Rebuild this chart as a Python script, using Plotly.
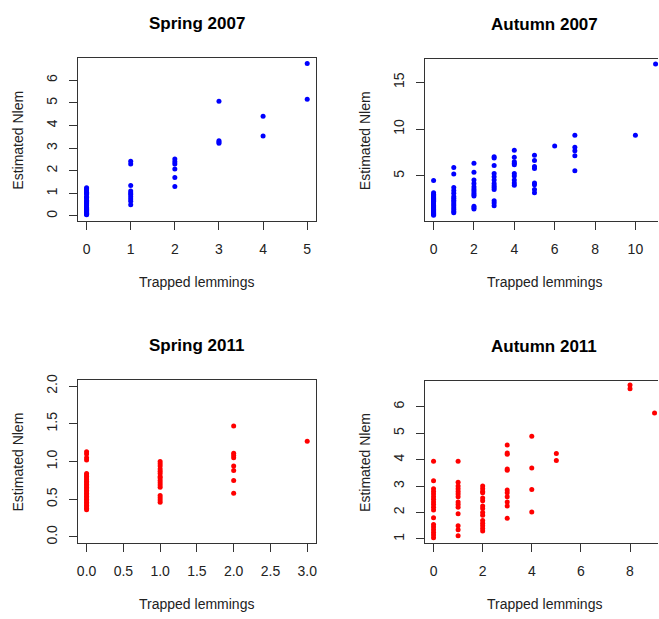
import plotly.graph_objects as go

# ---------------- data ----------------
titles = ["Spring 2007", "Autumn 2007", "Spring 2011", "Autumn 2011"]
x_label = "Trapped lemmings"
y_label = "Estimated Nlem"

spring07 = {
    0: [0.05, 0.08, 0.1, 0.12, 0.15, 0.18, 0.2, 0.25, 0.3, 0.33, 0.37, 0.4, 0.45, 0.5,
        0.55, 0.6, 0.65, 0.7, 0.8, 0.82, 0.85, 0.95, 1.0, 1.05, 1.1, 1.15, 1.2, 1.25],
    1: [2.42, 2.3, 1.35, 1.1, 1.02, 0.95, 0.85, 0.75, 0.65, 0.5],
    2: [2.52, 2.4, 2.3, 2.08, 1.7, 1.3],
    3: [5.07, 3.33, 3.27, 3.22],
    4: [4.41, 3.54],
    5: [6.74, 5.16],
}
autumn07 = {
    0: [4.5, 3.2, 3.05, 2.9, 2.8, 2.7, 2.6, 2.5, 2.4, 2.3, 2.2, 2.1, 2.0, 1.9, 1.8, 1.7,
        1.6, 1.5, 1.4, 1.3, 1.2, 1.1, 1.0, 0.9, 0.8],
    1: [5.9, 5.2, 3.75, 3.45, 3.15, 2.8, 2.6, 2.4, 2.2, 2.0, 1.8, 1.6, 1.4, 1.2, 1.05],
    2: [6.35, 5.4, 4.55, 4.2, 3.85, 3.6, 3.4, 3.2, 3.0, 2.85, 1.75, 1.6, 1.45],
    3: [7.05, 6.9, 6.1, 5.25, 4.9, 4.55, 4.2, 3.95, 3.75, 3.55, 2.35, 2.1, 1.8],
    4: [7.75, 7.0, 6.5, 6.35, 6.2, 5.25, 5.0, 4.55, 4.25, 4.0],
    5: [7.2, 6.65, 6.0, 5.8, 4.25, 4.05, 3.55, 3.2],
    6: [8.2],
    7: [9.35, 8.05, 7.7, 7.15, 5.55],
    10: [9.35],
    11: [16.95],
}
spring11 = {
    0: [1.13, 1.1, 1.05, 1.02, 0.84, 0.82, 0.8, 0.78, 0.76, 0.74, 0.72, 0.7, 0.68, 0.66,
        0.64, 0.62, 0.6, 0.58, 0.56, 0.54, 0.52, 0.5, 0.48, 0.46, 0.44, 0.42, 0.4, 0.38, 0.36],
    1: [1.0, 0.97, 0.94, 0.9, 0.87, 0.84, 0.8, 0.78, 0.75, 0.72, 0.69, 0.66, 0.55, 0.52,
        0.49, 0.46],
    2: [1.47, 1.11, 1.08, 1.05, 0.94, 0.88, 0.75, 0.58],
    3: [1.27],
}
autumn11 = {
    0: [3.94, 3.2, 2.9, 2.8, 2.7, 2.6, 2.5, 2.4, 2.3, 2.2, 2.1, 1.8, 1.55, 1.45, 1.35,
        1.25, 1.15, 1.05],
    1: [3.94, 3.15, 3.0, 2.9, 2.8, 2.7, 2.6, 2.4, 2.3, 2.2, 1.95, 1.5, 1.35, 1.12],
    2: [3.0, 2.9, 2.8, 2.75, 2.55, 2.45, 2.25, 2.15, 2.0, 1.9, 1.7, 1.6, 1.5, 1.4, 1.3],
    3: [4.55, 4.25, 4.2, 3.65, 3.6, 2.85, 2.75, 2.6, 2.4, 2.25, 1.78],
    4: [4.88, 3.68, 2.87, 2.02],
    5: [4.23, 3.97],
    8: [6.82, 6.68],
    9: [5.76],
}

x_ticks = [[0, 1, 2, 3, 4, 5], [0, 2, 4, 6, 8, 10],
           [0, 0.5, 1.0, 1.5, 2.0, 2.5, 3.0], [0, 2, 4, 6, 8]]
y_ticks = [[0, 1, 2, 3, 4, 5, 6], [5, 10, 15],
           [0, 0.5, 1.0, 1.5, 2.0], [1, 2, 3, 4, 5, 6]]

# ---------------- layout ----------------
W, H = 659, 619
FONT = "Liberation Sans, Arial, sans-serif"
LINE = "#333333"

datasets = [spring07, autumn07, spring11, autumn11]
colors = ["#0000FF", "#0000FF", "#FF0000", "#FF0000"]
# pixel boxes: (left, right, top, bottom)
boxes = [(77, 316, 53, 218), (425, 659, 54, 218), (77, 316, 379, 544), (425, 659, 380, 544)]
x_ranges = [[-0.2, 5.2], [-0.44, 11.12], [-0.12, 3.12], [-0.36, 9.14]]
y_ranges = [[-0.23, 6.97], [0.16, 17.46], [-0.08, 2.08], [0.85, 6.97]]
tick_fmt = ["", "", ".1f", ""]
right_border = [True, False, True, False]
title_centers = [196.5, 545, 196.5, 545]

fig = go.Figure()
annotations = []
for i, d in enumerate(datasets):
    xs, ys = [], []
    for k, vals in d.items():
        xs += [k] * len(vals)
        ys += vals
    ax = "" if i == 0 else str(i + 1)
    fig.add_trace(go.Scatter(x=xs, y=ys, mode="markers", xaxis="x" + ax, yaxis="y" + ax,
                             marker=dict(color=colors[i], size=5, line=dict(width=0)),
                             showlegend=False, cliponaxis=False))
    l, r, t, b = boxes[i]
    xdom = [l / W, r / W]
    ydom = [1 - b / H, 1 - t / H]
    common = dict(showgrid=False, zeroline=False, showline=True, linecolor=LINE, linewidth=1,
                  ticks="outside", ticklen=8, tickcolor=LINE, tickwidth=1,
                  tickfont=dict(family=FONT, size=14, color="#222222"))
    fig.layout["xaxis" + ax] = dict(domain=xdom, range=x_ranges[i], anchor="y" + ax,
                                   tickvals=x_ticks[i], tickformat=tick_fmt[i], mirror=True,
                                   ticklabelstandoff=7, **common)
    fig.layout["yaxis" + ax] = dict(domain=ydom, range=y_ranges[i], anchor="x" + ax,
                                   tickvals=y_ticks[i], tickformat=tick_fmt[i],
                                   mirror=right_border[i], tickangle=-90,
                                   ticklabelstandoff=6, **common)
    cx = title_centers[i]
    # title
    annotations.append(dict(text="<b>%s</b>" % titles[i], x=cx / W, y=1 - (t - 35) / H,
                            xref="paper", yref="paper", showarrow=False,
                            xanchor="center", yanchor="middle",
                            font=dict(family=FONT, size=17, color="#000000")))
    # x label
    annotations.append(dict(text=x_label, x=cx / W, y=1 - (b + 62) / H,
                            xref="paper", yref="paper", showarrow=False,
                            xanchor="center", yanchor="middle",
                            font=dict(family=FONT, size=14, color="#222222")))
    # y label
    annotations.append(dict(text=y_label, x=(l - 60) / W, y=1 - ((t + b) / 2) / H,
                            xref="paper", yref="paper", showarrow=False, textangle=-90,
                            xanchor="center", yanchor="middle",
                            font=dict(family=FONT, size=14, color="#222222")))

fig.update_layout(width=W, height=H, margin=dict(l=0, r=0, t=0, b=0),
                  paper_bgcolor="white", plot_bgcolor="white",
                  annotations=annotations)
fig.write_html("out.html")
